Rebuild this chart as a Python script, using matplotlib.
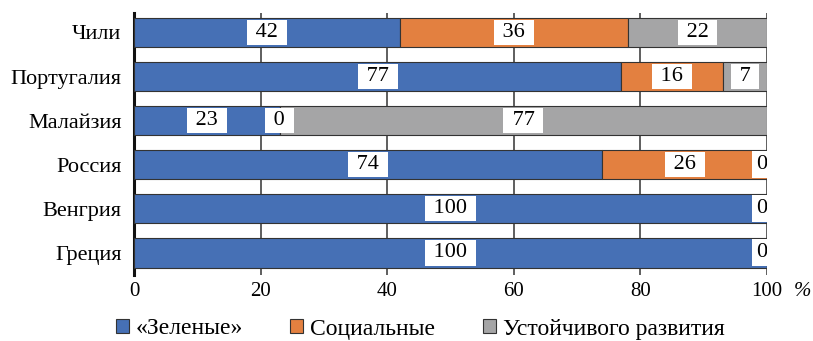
import matplotlib
matplotlib.use("Agg")
import matplotlib.pyplot as plt
from matplotlib.patches import Patch

plt.rcParams['font.family'] = ['Liberation Serif', 'DejaVu Serif']

countries = ["Чили", "Португалия", "Малайзия", "Россия", "Венгрия", "Греция"]
green = [42, 77, 23, 74, 100, 100]
social = [36, 16, 0, 26, 0, 0]
sustain = [22, 7, 77, 0, 0, 0]
series_names = ["«Зеленые»", "Социальные", "Устойчивого развития"]
colors = ["#4670B5", "#E38040", "#A5A5A6"]
xticks = [0, 20, 40, 60, 80, 100]

# which value labels are shown (overlapping zeros at the end are shown once)
show_green = [True]*6
show_social = [True, True, True, True, False, False]
show_sust = [True]*6

fig = plt.figure(figsize=(8.13, 3.41), dpi=100)
ax = fig.add_axes([134/813, 1-275/341, 633/813, 262/341])

y = list(range(len(countries)))
left = [0]*len(countries)
series = [green, social, sustain]
shows = [show_green, show_social, show_sust]
for vals, col, name, show in zip(series, colors, series_names, shows):
    ax.barh(y, vals, left=left, height=0.66, color=col, edgecolor="#333333",
            linewidth=0.8, zorder=3, label=name)
    for i, (v, l) in enumerate(zip(vals, left)):
        if not show[i]:
            continue
        if v == 0 and l >= 100:
            ax.text(100, i, f"{v}", ha="right", va="center", fontsize=16, zorder=5,
                    clip_on=True,
                    bbox=dict(boxstyle="square,pad=0.18", facecolor="white", edgecolor="none"))
        else:
            ax.text(l + v/2, i, f" {v} ", ha="center", va="center", fontsize=16, zorder=5,
                    bbox=dict(boxstyle="square,pad=0.14", facecolor="white", edgecolor="none"))
    left = [a+b for a, b in zip(left, vals)]

ax.set_xlim(0, 100)
ax.set_ylim(5.5, -0.44)
ax.set_yticks(y)
ax.set_yticklabels(countries, fontsize=16)
ax.set_xticks(xticks)
ax.set_xticklabels([str(t) for t in xticks], fontsize=15)
ax.tick_params(axis="y", length=0, pad=9)
ax.tick_params(axis="x", length=0, pad=5)
ax.grid(axis="x", color="#333333", linewidth=1.1, zorder=0)
for s in ["top", "right", "bottom"]:
    ax.spines[s].set_visible(False)
ax.spines["left"].set_linewidth(2.2)
ax.spines["left"].set_color("#111111")
fig.text(802/813, 1-291/341, "%", fontsize=15, ha="center", va="center", style="italic")

handles = [Patch(facecolor=c, edgecolor="#333333", linewidth=0.8) for c in colors]
fig.legend(handles, series_names, loc="center", bbox_to_anchor=(420/813, 1-329/341),
           ncol=3, frameon=False, fontsize=17, handlelength=0.55, handleheight=0.55,
           handletextpad=0.3, columnspacing=2.0, borderpad=0, borderaxespad=0)

fig.savefig("out.png", dpi=100)
